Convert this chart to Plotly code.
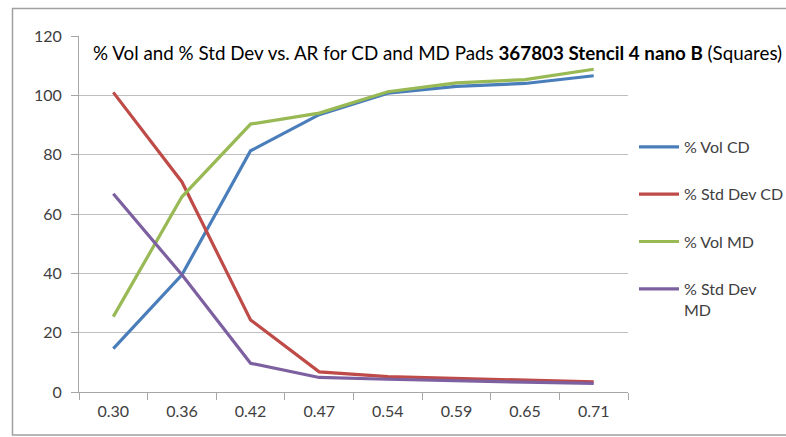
import plotly.graph_objects as go

ar_labels = ["0.30", "0.36", "0.42", "0.47", "0.54", "0.59", "0.65", "0.71"]
vol_cd = [14.6, 39.5, 81.3, 93.5, 100.7, 103.0, 104.0, 106.6]
std_cd = [101.0, 70.8, 24.3, 6.8, 5.2, 4.6, 4.0, 3.4]
vol_md = [25.4, 65.8, 90.3, 94.0, 101.2, 104.2, 105.3, 108.8]
std_md = [66.8, 39.5, 9.7, 4.9, 4.3, 3.7, 3.3, 2.9]

series_names = ["% Vol CD", "% Std Dev CD", "% Vol MD", "% Std Dev<br>MD"]
series_values = [vol_cd, std_cd, vol_md, std_md]
series_colors = ["#4A7EBB", "#BE4B48", "#98B954", "#7D60A0"]

FONT = "Lato"
TXT = "#404040"

fig = go.Figure()
for i, (name, vals, col) in enumerate(zip(series_names, series_values, series_colors)):
    fig.add_trace(go.Scatter(
        x=ar_labels, y=vals, mode="lines", name=name,
        line=dict(color=col, width=3.2), legendgroup=f"g{i}",
    ))

W, H = 806, 437
L, R, T, B = 79, W - 628, 36, H - 392
pw, ph = W - L - R, H - T - B

def px_x(p):
    return (p - L) / pw

def px_y(p):
    return (H - B - p) / ph

fig.update_layout(
    width=W, height=H,
    margin=dict(l=L, r=R, t=T, b=B, pad=0),
    paper_bgcolor="white", plot_bgcolor="white",
    font=dict(family=FONT, size=16, color=TXT),
    title=dict(
        text="% Vol and % Std Dev vs. AR for CD and MD Pads <b>367803 Stencil 4 nano B</b> (Squares)",
        font=dict(family=FONT, size=18.8, color="#000000"),
        xref="paper", yref="paper", x=px_x(93), y=px_y(53),
        xanchor="left", yanchor="middle",
    ),
    showlegend=True,
    legend=dict(
        x=px_x(634), y=px_y(130), xanchor="left", yanchor="top",
        font=dict(family=FONT, size=16, color=TXT),
        tracegroupgap=23.5, valign="top", bgcolor="rgba(0,0,0,0)",
        itemwidth=40,
    ),
    xaxis=dict(
        type="category", categoryorder="array", categoryarray=ar_labels,
        range=[-0.5, 7.5], tickson="boundaries",
        ticks="outside", ticklen=7, tickcolor="#A6A6A6", tickwidth=1,
        showline=True, linecolor="#A6A6A6", linewidth=1,
        showgrid=False, zeroline=False, ticklabelstandoff=5,
        tickfont=dict(family=FONT, size=16, color=TXT),
    ),
    yaxis=dict(
        range=[0, 120], dtick=20, tick0=0,
        ticks="outside", ticklen=7, tickcolor="#A6A6A6", tickwidth=1,
        showline=True, linecolor="#A6A6A6", linewidth=1,
        showgrid=True, gridcolor="#BFBFBF", gridwidth=1,
        zeroline=False, ticklabelstandoff=6,
        tickfont=dict(family=FONT, size=16, color=TXT),
    ),
    shapes=[dict(
        type="rect", xref="paper", yref="paper",
        x0=px_x(12.5), x1=px_x(820), y0=px_y(435), y1=px_y(8.5),
        line=dict(color="#A0A0A0", width=1.5), fillcolor="rgba(0,0,0,0)",
        layer="below",
    )],
)

fig.write_html(
    "out.html",
    config={"displayModeBar": False},
    post_script="document.body.style.margin='0px';",
)
